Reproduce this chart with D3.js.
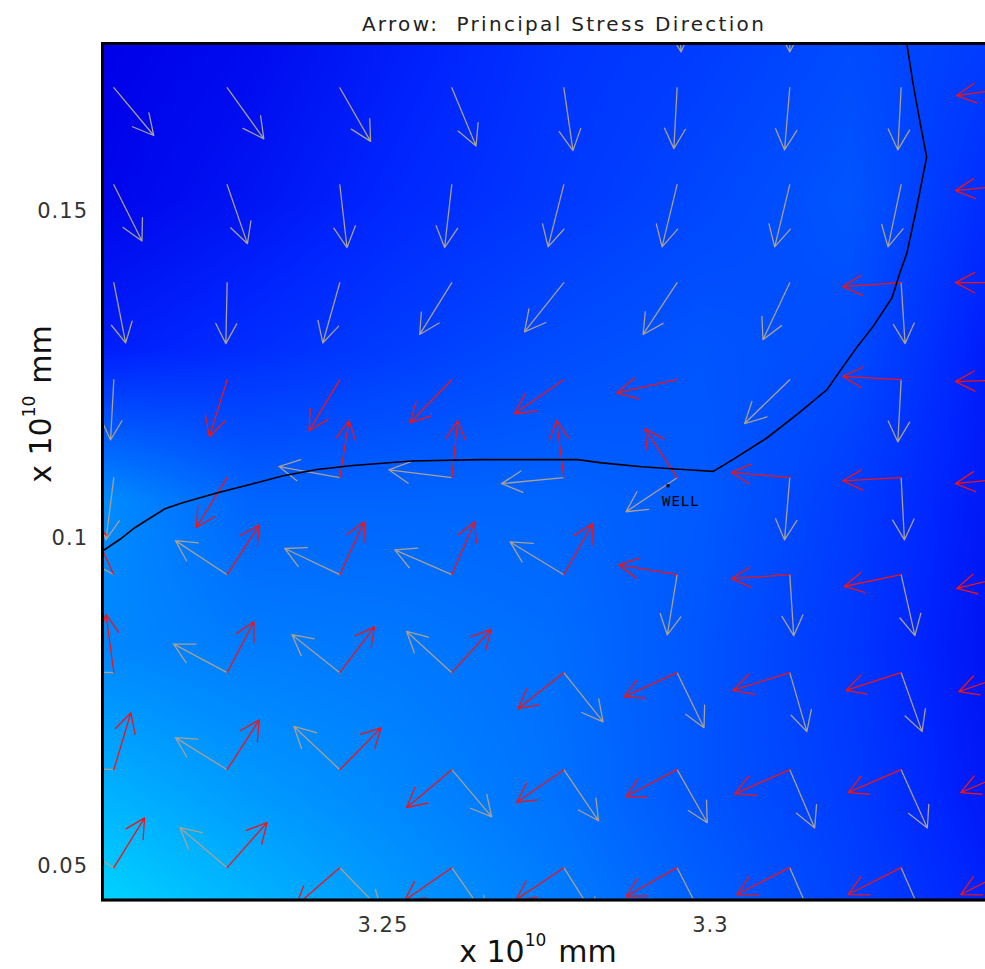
<!DOCTYPE html>
<html>
<head>
<meta charset="utf-8">
<script src="https://cdn.jsdelivr.net/npm/d3@7"></script>
<style>
  body { margin: 0; background: #fff; }
  svg { display: block; font-family: "DejaVu Sans", Verdana, sans-serif; }
</style>
</head>
<body>
<svg id="chart" width="985" height="969"></svg>
<script>
// ---- data (x, y in units of 1e10 mm) ----
var xTicks = [3.25, 3.3];
var xTickLabels = ['3.25', '3.3'];
var yTicks = [0.15, 0.1, 0.05];
var yTickLabels = ['0.15', '0.1', '0.05'];

// grid where the stress arrows start
var colX = [3.2090, 3.2263, 3.2435, 3.2606, 3.2777, 3.2950, 3.3122, 3.3292, 3.3464];
var rowY = [0.18374, 0.16878, 0.15397, 0.13901, 0.1242, 0.10924, 0.09443, 0.07947, 0.06466, 0.0497];

// arrow components per grid node, in 1e-3 (x 1e10 mm), [u, v], v up
var grayVectors = [
  [null, null, null, null, null, [0.6, -9.5], [0, -9.5], null, null],
  [[6.1, -7.3], [5.6, -7.8], [4.7, -8.2], [3.7, -8.9], [1.4, -9.6], [-0.5, -9.3], [-0.8, -9.5], [-0.5, -9.5], null],
  [[4.3, -8.6], [3.1, -9.0], [1.1, -9.6], [-1.1, -9.6], [-2.4, -9.5], [-2.3, -9.5], [-2.3, -9.5], [-2.0, -9.5], null],
  [[1.8, -9.2], [-0.2, -9.3], [-2.6, -9.2], [-4.9, -7.9], [-6.0, -7.5], [-5.2, -7.9], [-4.1, -8.7], [0.6, -9.3], null],
  [[-0.5, -9.2], null, null, null, null, null, [-6.9, -6.7], [-0.5, -9.5], null],
  [[-1.2, -9.5], null, [-9.3, 1.7], [-9.6, 1.2], [-9.5, -0.9], [-7.8, -5.2], [-0.8, -9.5], [0.5, -9.5], null],
  [[-8.4, 4.6], [-7.9, 5.2], [-8.4, 4.0], [-8.7, 3.8], [-8.2, 5.0], [-1.5, -9.2], [0.6, -9.3], [2.1, -9.3], null],
  [[-8.9, 0.3], [-8.2, 4.4], [-7.3, 5.8], [-6.9, 6.3], [6.0, -7.5], [4.1, -8.4], [2.6, -9.0], [3.2, -9.0], null],
  [[-8.9, 0.5], [-7.9, 4.9], [-7.0, 6.6], [6.1, -7.2], [5.3, -7.8], [4.6, -8.1], [3.8, -8.9], [4.0, -8.9], null],
  [[-7.6, 4.6], [-7.2, 6.1], [6.4, -6.6], [5.3, -7.6], [5.0, -7.9], [4.3, -8.4], [3.8, -8.7], [3.8, -8.7], null]
];

var redVectors = [
  [null, null, null, null, null, null, null, null, null],
  [null, null, null, null, null, null, null, null, [-8.7, -1.2]],
  [null, null, null, null, null, null, null, null, [-8.9, -0.9]],
  [null, null, null, null, null, null, null, [-8.9, -0.6], [-8.9, 0]],
  [null, [-2.7, -8.7], [-4.7, -7.8], [-6.4, -6.6], [-7.5, -5.2], [-9.2, -2.0], null, [-8.9, 0.5], [-8.9, -0.3]],
  [null, [-4.7, -7.6], [1.4, 8.7], [0.9, 8.7], [-1.1, 8.7], [-4.9, 7.5], [-8.9, 0.8], [-8.9, -0.5], [-8.9, -0.9]],
  [[-3.8, 8.1], [4.9, 7.6], [3.7, 8.1], [3.5, 8.1], [4.4, 7.8], [-8.9, 1.5], [-8.9, -0.6], [-8.7, -1.8], [-8.7, -2.1]],
  [[-1.2, 8.9], [4.1, 7.8], [5.3, 7.0], [6.0, 6.6], [-7.0, -5.5], [-8.1, -3.7], [-8.7, -2.7], [-8.4, -2.7], [-8.4, -2.9]],
  [[2.6, 8.7], [4.9, 7.6], [6.3, 6.4], [-6.9, -5.8], [-7.2, -5.0], [-7.8, -4.1], [-8.4, -3.7], [-8.1, -3.5], [-8.1, -3.5]],
  [[4.7, 7.6], [6.1, 6.9], [-6.7, -5.8], [-7.2, -5.0], [-7.3, -4.9], [-7.8, -4.4], [-8.1, -4.1], [-8.1, -4.1], [-8.1, -4.1]]
];

// black boundary line
var curveX = [3.2075, 3.2099, 3.2122, 3.2168, 3.2195, 3.2247, 3.2298, 3.2347, 3.2400, 3.2455, 3.2545, 3.2649,
  3.2798, 3.2835, 3.2896, 3.2959, 3.3005, 3.3035, 3.3087, 3.3137, 3.3179, 3.3202, 3.3224, 3.3249, 3.3278,
  3.3290, 3.3301, 3.3316, 3.3331, 3.3321, 3.3310, 3.3301, 3.3299];
var curveY = [0.0982, 0.0998, 0.1016, 0.1045, 0.1054, 0.1069, 0.1082, 0.1095, 0.1105, 0.1111, 0.1118, 0.1120,
  0.1120, 0.1115, 0.1109, 0.1105, 0.1102, 0.1120, 0.1153, 0.1192, 0.1227, 0.1260, 0.1291, 0.1323, 0.1367,
  0.1405, 0.1436, 0.1506, 0.1582, 0.1634, 0.1695, 0.1753, 0.1775];

var well = { x: 3.2936, y: 0.1080, label: 'WELL' };

// background field (colour level) sampled on a coarse grid
var bgX = [3.2075, 3.2298, 3.2527, 3.2756, 3.2985, 3.3214, 3.3420];
var bgY = [0.1753, 0.1517, 0.1288, 0.1059, 0.0830, 0.0601, 0.0450];
var bgField = [
  [0, 10, 30, 50, 60, 75, 60],
  [5, 20, 40, 55, 70, 85, 45],
  [30, 45, 60, 75, 85, 75, 30],
  [140, 100, 100, 100, 90, 60, 25],
  [135, 125, 120, 110, 85, 55, 20],
  [180, 155, 135, 115, 85, 60, 25],
  [210, 180, 150, 125, 95, 65, 35]
];

// ---- layout ----
var plotLeft = 104, plotTop = 45;
var pxPerUnit = 6550;
var xDomain = [3.2075, 3.345];
var yDomain = [0.0450, 0.1753];
var plotW = (xDomain[1] - xDomain[0]) * pxPerUnit;
var plotH = (yDomain[1] - yDomain[0]) * pxPerUnit;

var x = d3.scaleLinear().domain(xDomain).range([plotLeft, plotLeft + plotW]);
var y = d3.scaleLinear().domain(yDomain).range([plotTop + plotH, plotTop]);

var svg = d3.select('#chart');

svg.append('defs').append('clipPath').attr('id', 'plot-clip')
  .append('rect')
  .attr('x', plotLeft).attr('y', plotTop)
  .attr('width', plotW).attr('height', plotH);

// background image from the field
var bgColor = d3.scaleLinear().domain([0, 40, 255])
  .range(['rgb(0,0,232)', 'rgb(0,40,255)', 'rgb(0,255,255)']);
var lut = d3.range(256).map(function(i) { return d3.rgb(bgColor(i)); });

function fieldAt(dx, dy) {
  var i = Math.max(0, Math.min(bgX.length - 2, d3.bisectRight(bgX, dx) - 1));
  // bgY is descending
  var j = 0;
  while (j < bgY.length - 2 && dy < bgY[j + 1]) j++;
  var tx = Math.max(0, Math.min(1, (dx - bgX[i]) / (bgX[i + 1] - bgX[i])));
  var ty = Math.max(0, Math.min(1, (dy - bgY[j]) / (bgY[j + 1] - bgY[j])));
  var a = bgField[j][i], b = bgField[j][i + 1], c = bgField[j + 1][i], d = bgField[j + 1][i + 1];
  return (a * (1 - tx) + b * tx) * (1 - ty) + (c * (1 - tx) + d * tx) * ty;
}

var cw = Math.ceil(plotW), ch = Math.ceil(plotH);
var canvas = document.createElement('canvas');
canvas.width = cw; canvas.height = ch;
var ctx = canvas.getContext('2d');
var img = ctx.createImageData(cw, ch);
for (var py = 0; py < ch; py++) {
  var dyv = y.invert(plotTop + py + 0.5);
  for (var px = 0; px < cw; px++) {
    var f = Math.round(Math.max(0, Math.min(255, fieldAt(x.invert(plotLeft + px + 0.5), dyv))));
    var c = lut[f], k = (py * cw + px) * 4;
    img.data[k] = c.r; img.data[k + 1] = c.g; img.data[k + 2] = c.b; img.data[k + 3] = 255;
  }
}
ctx.putImageData(img, 0, 0);

svg.append('image')
  .attr('x', plotLeft).attr('y', plotTop)
  .attr('width', cw).attr('height', ch)
  .attr('preserveAspectRatio', 'none')
  .attr('href', canvas.toDataURL());

// ---- arrows ----
function arrowPath(x0, y0, x1, y1) {
  var a = Math.atan2(y1 - y0, x1 - x0);
  var len = Math.hypot(x1 - x0, y1 - y0);
  var h = len * 0.37, s = Math.PI / 6.5;
  var p = d3.path();
  p.moveTo(x0, y0); p.lineTo(x1, y1);
  p.moveTo(x1 - h * Math.cos(a - s), y1 - h * Math.sin(a - s));
  p.lineTo(x1, y1);
  p.lineTo(x1 - h * Math.cos(a + s), y1 - h * Math.sin(a + s));
  return p.toString();
}

function flatten(vectors) {
  var out = [];
  vectors.forEach(function(row, r) {
    row.forEach(function(v, c) {
      if (v) out.push({ gx: colX[c], gy: rowY[r], u: v[0], v: v[1] });
    });
  });
  return out;
}

var arrowLayer = svg.append('g').attr('clip-path', 'url(#plot-clip)');

function drawArrows(vectors, color) {
  arrowLayer.append('g')
    .selectAll('path')
    .data(flatten(vectors))
    .enter()
    .append('path')
    .attr('d', function(d) {
      return arrowPath(x(d.gx), y(d.gy), x(d.gx + d.u / 1000), y(d.gy + d.v / 1000));
    })
    .attr('fill', 'none')
    .attr('stroke', color)
    .attr('stroke-width', 1.3)
    .attr('stroke-linecap', 'round')
    .attr('stroke-linejoin', 'round');
}

drawArrows(grayVectors, '#a8a092');
drawArrows(redVectors, '#f01414');

// boundary curve
var line = d3.line()
  .x(function(d) { return x(d[0]); })
  .y(function(d) { return y(d[1]); });

arrowLayer.append('path')
  .datum(curveX.map(function(v, i) { return [v, curveY[i]]; }))
  .attr('d', line)
  .attr('fill', 'none')
  .attr('stroke', '#000')
  .attr('stroke-width', 1.6);

// well marker
arrowLayer.append('rect')
  .attr('x', x(well.x) - 1.5).attr('y', y(well.y) - 1.5)
  .attr('width', 3).attr('height', 3)
  .attr('fill', '#000');
arrowLayer.append('text')
  .attr('x', x(well.x) - 6).attr('y', y(well.y) + 20)
  .attr('font-family', '"DejaVu Sans Mono", monospace')
  .attr('font-size', 14)
  .attr('letter-spacing', 1)
  .attr('fill', '#000')
  .text(well.label);

// plot frame
svg.append('rect')
  .attr('x', plotLeft - 2.5).attr('y', plotTop - 2.5)
  .attr('width', plotW + 5).attr('height', plotH + 5)
  .attr('fill', 'none')
  .attr('stroke', '#999')
  .attr('stroke-width', 1);
svg.append('rect')
  .attr('x', plotLeft - 1.5).attr('y', plotTop - 1.5)
  .attr('width', plotW + 3).attr('height', plotH + 3)
  .attr('fill', 'none')
  .attr('stroke', '#000')
  .attr('stroke-width', 3);

// ---- axes ----
var xAxis = d3.axisBottom(x)
  .tickValues(xTicks)
  .tickFormat(function(d, i) { return xTickLabels[i]; })
  .tickSize(0).tickPadding(19);
var gx = svg.append('g').attr('transform', 'translate(0,' + (plotTop + plotH) + ')').call(xAxis);
gx.select('.domain').remove();
gx.selectAll('text').attr('font-size', 21).attr('fill', '#333')
  .attr('font-family', '"DejaVu Sans", Verdana, sans-serif').attr('letter-spacing', 1);

var yAxis = d3.axisLeft(y)
  .tickValues(yTicks)
  .tickFormat(function(d, i) { return yTickLabels[i]; })
  .tickSize(0).tickPadding(16);
var gy = svg.append('g').attr('transform', 'translate(' + plotLeft + ',0)').call(yAxis);
gy.select('.domain').remove();
gy.selectAll('text').attr('font-size', 21).attr('fill', '#333')
  .attr('font-family', '"DejaVu Sans", Verdana, sans-serif').attr('letter-spacing', 1);

// axis titles
function unitTitle(sel) {
  sel.append('tspan').text('x 10');
  sel.append('tspan').attr('dy', -16).attr('font-size', 17).text('10');
  sel.append('tspan').attr('dy', 16).attr('dx', 12).text('mm');
}

svg.append('text')
  .attr('x', 538).attr('y', 962)
  .attr('text-anchor', 'middle')
  .attr('font-size', 30)
  .attr('fill', '#111')
  .call(unitTitle);

svg.append('text')
  .attr('transform', 'translate(51,404) rotate(-90)')
  .attr('text-anchor', 'middle')
  .attr('font-size', 30)
  .attr('fill', '#111')
  .call(unitTitle);

// chart title
svg.append('text')
  .attr('x', 564).attr('y', 31)
  .attr('text-anchor', 'middle')
  .attr('font-size', 20)
  .attr('letter-spacing', 2.3)
  .attr('fill', '#222')
  .style('white-space', 'pre')
  .text('Arrow:  Principal Stress Direction');
</script>
</body>
</html>
